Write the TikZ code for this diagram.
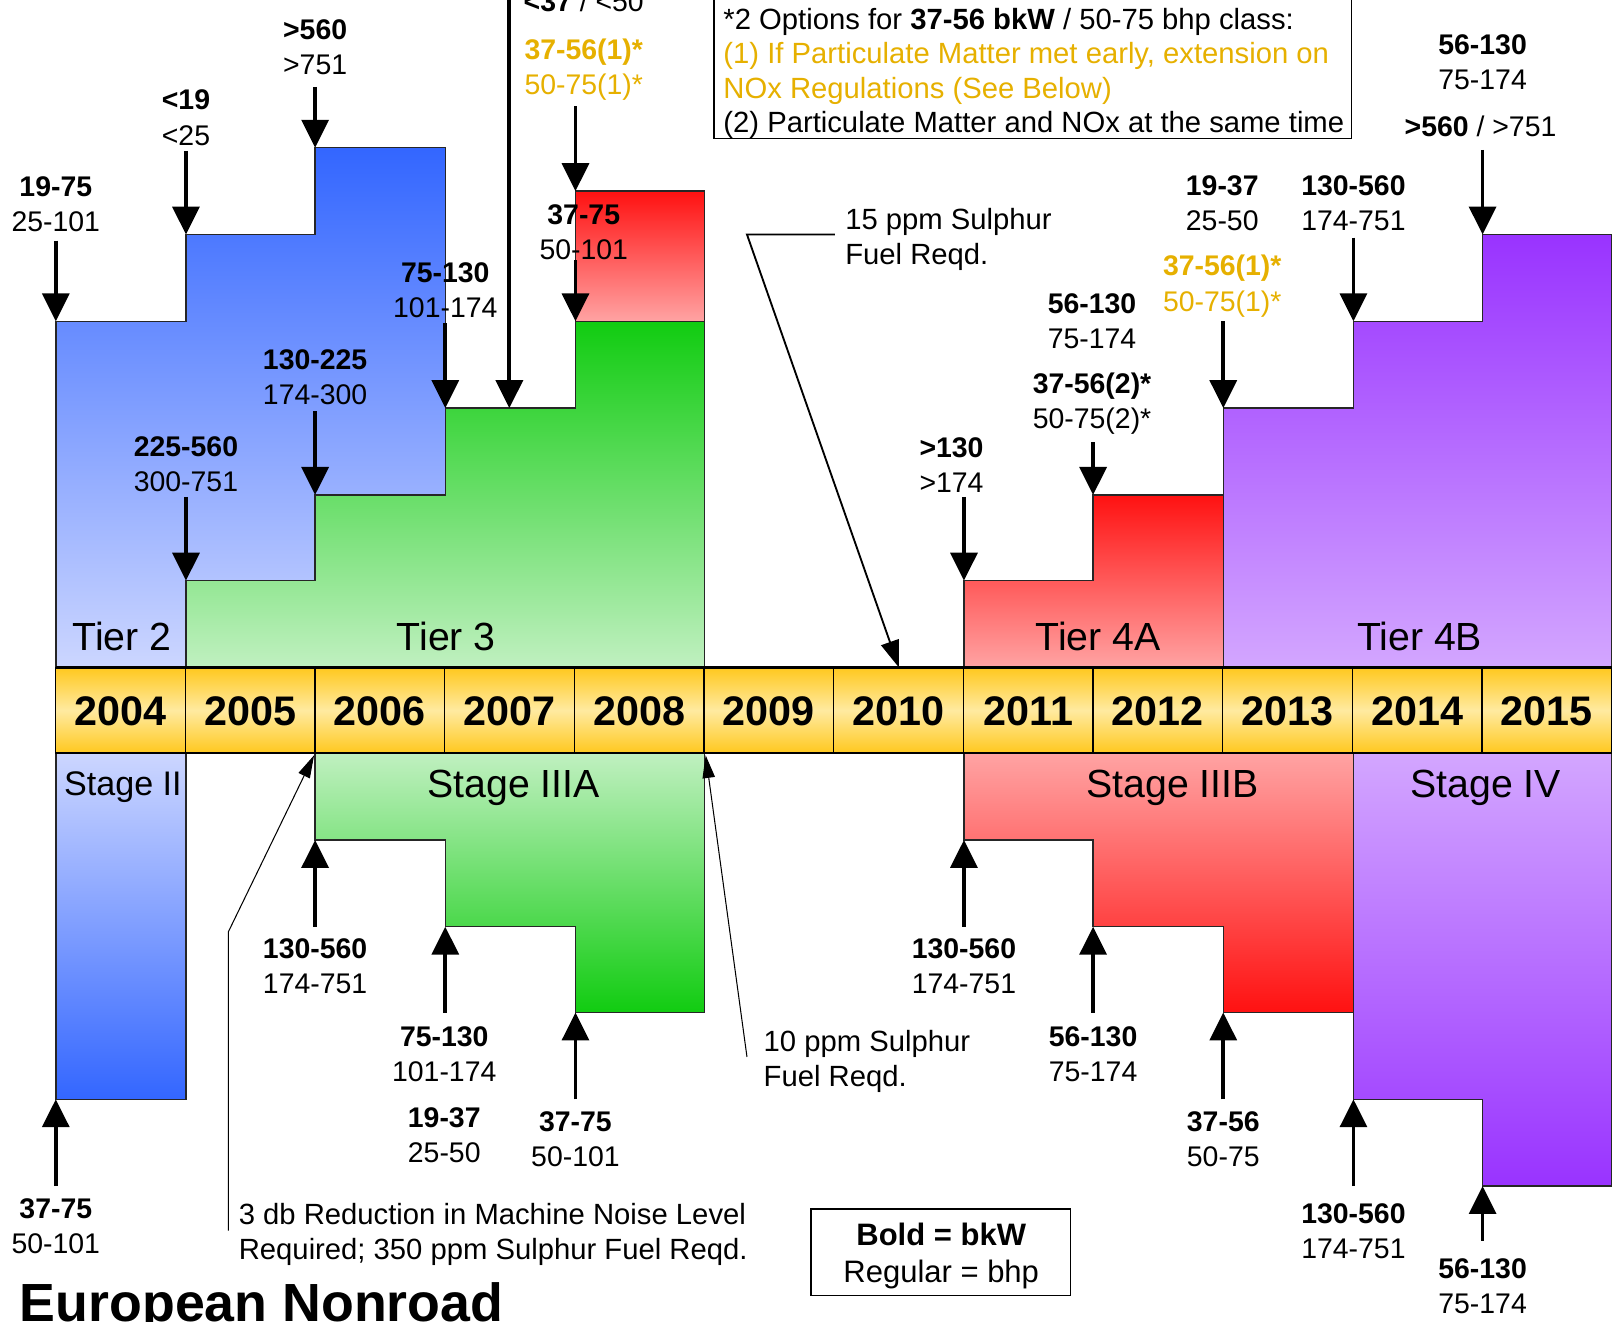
\documentclass[tikz,border=0pt]{standalone}
\usepackage{fontspec}
\setmainfont{Liberation Sans}
\usetikzlibrary{arrows.meta}
\definecolor{bluedk}{RGB}{51,102,255}
\definecolor{bluelt}{RGB}{204,214,255}
\definecolor{greendk}{RGB}{17,204,17}
\definecolor{greenlt}{RGB}{192,240,192}
\definecolor{reddk}{RGB}{255,17,17}
\definecolor{redlt}{RGB}{255,163,163}
\definecolor{purpdk}{RGB}{153,51,255}
\definecolor{purplt}{RGB}{211,166,255}
\definecolor{golddk}{RGB}{255,200,30}
\definecolor{goldlt}{RGB}{255,234,160}
\definecolor{orangetxt}{RGB}{230,176,0}
\begin{document}
\begin{tikzpicture}[x=1pt,y=-1pt,
 shp/.style={draw=black!85, line width=1.4pt},
 lab/.style={font=\fontsize{27.5}{34}\selectfont, align=center, inner sep=0pt},
 olab/.style={lab, text=orangetxt},
 ann/.style={font=\fontsize{28.3}{34}\selectfont, align=left, inner sep=0pt, anchor=west},
 tier/.style={font=\fontsize{38}{44}\selectfont, inner sep=0pt, anchor=base},
 yr/.style={font=\fontsize{40}{46}\selectfont\bfseries, inner sep=0pt, anchor=base},
 bigarr/.style={line width=3.6pt, -{Triangle[width=26pt,length=27pt]}},
 midarr/.style={line width=1.8pt, -{Triangle[width=18pt,length=26pt]}},
 thinarr/.style={line width=1pt, -{Triangle[width=12pt,length=22pt]}},
]
\useasboundingbox (0,0) rectangle (1568,1279);

% ---------- Tier shapes (above) ----------
\draw[shp, top color=bluedk, bottom color=bluelt] (54,646) -- (54,311) -- (180,311) -- (180,227) -- (305,227) -- (305,143) -- (431,143) -- (431,479) -- (305,479) -- (305,562) -- (180,562) -- (180,646) -- cycle;
\draw[shp, top color=greendk, bottom color=greenlt] (180,646) -- (180,562) -- (305,562) -- (305,479) -- (431,479) -- (431,395) -- (557,395) -- (557,311) -- (682,311) -- (682,646) -- cycle;
\draw[shp, top color=reddk, bottom color=redlt] (557,185) rectangle (682,311);
\draw[shp, top color=reddk, bottom color=redlt] (933,646) -- (933,562) -- (1058,562) -- (1058,479) -- (1184,479) -- (1184,646) -- cycle;
\draw[shp, top color=purpdk, bottom color=purplt] (1184,646) -- (1184,395) -- (1310,395) -- (1310,311) -- (1435,311) -- (1435,227) -- (1560,227) -- (1560,646) -- cycle;

% ---------- Stage shapes (below) ----------
\draw[shp, top color=bluelt, bottom color=bluedk] (54,729) rectangle (180,1064);
\draw[shp, top color=greenlt, bottom color=greendk] (305,729) -- (682,729) -- (682,980) -- (557,980) -- (557,897) -- (431,897) -- (431,813) -- (305,813) -- cycle;
\draw[shp, top color=redlt, bottom color=reddk] (933,729) -- (1310,729) -- (1310,980) -- (1184,980) -- (1184,897) -- (1058,897) -- (1058,813) -- (933,813) -- cycle;
\draw[shp, top color=purplt, bottom color=purpdk] (1310,729) -- (1560,729) -- (1560,1148) -- (1435,1148) -- (1435,1064) -- (1310,1064) -- cycle;

% ---------- timeline bar ----------
\draw[line width=1.2pt, top color=golddk, bottom color=golddk, middle color=goldlt] (54,646) rectangle (1560,729);
\foreach \i in {1,...,11} \draw[line width=1.2pt] ({54+125.5*\i},646) -- ({54+125.5*\i},729);
\draw[line width=2.4pt] (54,646) -- (1560,646);
\draw[line width=2.4pt] (54,729) -- (1560,729);
\foreach \yr [count=\i from 0] in {2004,2005,2006,2007,2008,2009,2010,2011,2012,2013,2014,2015}
  \node[yr] (y\yr) at ({116.75+125.5*\i},702) {\yr};

% ---------- tier / stage names ----------
\node[tier] (t2) at (118,630) {Tier 2};
\node[tier] (t3) at (432,630) {Tier 3};
\node[tier] (t4a) at (1063,630) {Tier 4A};
\node[tier] (t4b) at (1374,630) {Tier 4B};
\node[tier, font=\fontsize{33}{40}\selectfont] (s2) at (119,770) {Stage II};
\node[tier] (s3a) at (497,772) {Stage IIIA};
\node[tier] (s3b) at (1135,772) {Stage IIIB};
\node[tier] (s4) at (1438,772) {Stage IV};

% ---------- top labels ----------
\node[lab] (l1) at (54,198) {\textbf{19-75}\\25-101};
\node[lab] (l2) at (180,114) {\textbf{<19}\\<25};
\node[lab] (l3) at (305,46) {\textbf{>560}\\>751};
\node[lab] (l4) at (305,365) {\textbf{130-225}\\174-300};
\node[lab] (l5) at (180,449) {\textbf{225-560}\\300-751};
\node[lab] (l6) at (431,281) {\textbf{75-130}\\101-174};
\node[lab, anchor=base] (l7) at (565,11) {\textbf{<37} / <50};
\node[olab] (l8) at (565,67) {\textbf{37-56(1)*}\\50-75(1)*};
\node[lab] (l9) at (565,225) {\textbf{37-75}\\50-101};
\node[lab] (l10) at (921,450) {\textbf{>130}\\>174};
\node[lab] (l11a) at (1057,311) {\textbf{56-130}\\75-174};
\node[lab] (l11b) at (1057,391) {\textbf{37-56(2)*}\\50-75(2)*};
\node[lab] (l12a) at (1183,197) {\textbf{19-37}\\25-50};
\node[olab] (l12b) at (1183,277) {\textbf{37-56(1)*}\\50-75(1)*};
\node[lab] (l13) at (1310,197) {\textbf{130-560}\\174-751};
\node[lab] (l14a) at (1435,60) {\textbf{56-130}\\75-174};
\node[lab, anchor=base] (l14b) at (1433,132) {\textbf{>560} / >751};

% ---------- bottom labels ----------
\node[lab] (m1) at (54,1187) {\textbf{37-75}\\50-101};
\node[lab] (m2) at (305,935) {\textbf{130-560}\\174-751};
\node[lab] (m3) at (430,1020) {\textbf{75-130}\\101-174};
\node[lab] (m4) at (430,1099) {\textbf{19-37}\\25-50};
\node[lab] (m5) at (557,1103) {\textbf{37-75}\\50-101};
\node[lab] (m6) at (933,935) {\textbf{130-560}\\174-751};
\node[lab] (m7) at (1058,1020) {\textbf{56-130}\\75-174};
\node[lab] (m8) at (1184,1103) {\textbf{37-56}\\50-75};
\node[lab] (m9) at (1310,1192) {\textbf{130-560}\\174-751};
\node[lab] (m10) at (1435,1245) {\textbf{56-130}\\75-174};

% ---------- arrow coordinates ----------
\coordinate (a1s) at (54,233);   \coordinate (a1e) at (54,311);
\coordinate (a2s) at (180,146);  \coordinate (a2e) at (180,227);
\coordinate (a3s) at (305,84);   \coordinate (a3e) at (305,143);
\coordinate (a4s) at (305,398);  \coordinate (a4e) at (305,479);
\coordinate (a5s) at (180,481);  \coordinate (a5e) at (180,562);
\coordinate (a6s) at (431,313);  \coordinate (a6e) at (431,395);
\coordinate (a7s) at (493,-5);   \coordinate (a7e) at (493,395);
\coordinate (a8s) at (557,103);  \coordinate (a8e) at (557,185);
\coordinate (a9s) at (557,252);  \coordinate (a9e) at (557,311);
\coordinate (a10s) at (933,481); \coordinate (a10e) at (933,562);
\coordinate (a11s) at (1058,428);\coordinate (a11e) at (1058,479);
\coordinate (a12s) at (1184,311);\coordinate (a12e) at (1184,395);
\coordinate (a13s) at (1310,230);\coordinate (a13e) at (1310,311);
\coordinate (a14s) at (1435,145);\coordinate (a14e) at (1435,227);
\coordinate (b1s) at (54,1148);  \coordinate (b1e) at (54,1064);
\coordinate (b2s) at (305,897);  \coordinate (b2e) at (305,813);
\coordinate (b3s) at (431,980);  \coordinate (b3e) at (431,897);
\coordinate (b5s) at (557,1064); \coordinate (b5e) at (557,980);
\coordinate (b6s) at (933,897);  \coordinate (b6e) at (933,813);
\coordinate (b7s) at (1058,980); \coordinate (b7e) at (1058,897);
\coordinate (b8s) at (1184,1064);\coordinate (b8e) at (1184,980);
\coordinate (b9s) at (1310,1148);\coordinate (b9e) at (1310,1064);
\coordinate (b10s) at (1435,1201);\coordinate (b10e) at (1435,1148);

\foreach \a in {a1,a2,a3,a4,a5,a6,a7,a8,a9,a10,a11,a12,a13,a14,b1,b2,b3,b5,b6,b7,b8,b9,b10}
  \draw[bigarr] (\a s) -- (\a e);

% ---------- annotations ----------
\node[ann] (n15) at (818,232) {15 ppm Sulphur\\Fuel Reqd.};
\coordinate (c15a) at (808,227); \coordinate (c15b) at (723,227); \coordinate (c15e) at (870,646);
\draw[midarr] (c15a) -- (c15b) -- (c15e);

\node[ann] (n10) at (739,1027) {10 ppm Sulphur\\Fuel Reqd.};
\coordinate (c10a) at (723,1023); \coordinate (c10e) at (683,731);
\draw[thinarr] (c10a) -- (c10e);

\node[ann] (n3) at (231,1195) {3 db Reduction in Machine Noise Level\\Required; 350 ppm Sulphur Fuel Reqd.};
\coordinate (c3a) at (221,1191); \coordinate (c3b) at (221,902); \coordinate (c3e) at (304,731);
\draw[thinarr] (c3a) -- (c3b) -- (c3e);

% ---------- info box ----------
\draw[line width=1.4pt] (691,-5) rectangle (1308,134);
\node[ann, font=\fontsize{28.3}{33.3}\selectfont] (info) at (700,71) {*2 Options for \textbf{37-56 bkW} / 50-75 bhp class:\\\textcolor{orangetxt}{(1) If Particulate Matter met early, extension on}\\\textcolor{orangetxt}{NOx Regulations (See Below)}\\(2) Particulate Matter and NOx at the same time};

% ---------- legend ----------
\draw[line width=1.4pt] (785,1170) rectangle (1036,1254);
\node[lab, font=\fontsize{30}{36}\selectfont] (legend) at (911,1216) {\textbf{Bold = bkW}\\Regular = bhp};

% ---------- title ----------
\node[font=\fontsize{52}{60}\selectfont\bfseries, anchor=base west, inner sep=0pt] (title) at (19,1279) {European Nonroad};
\end{tikzpicture}
\end{document}
